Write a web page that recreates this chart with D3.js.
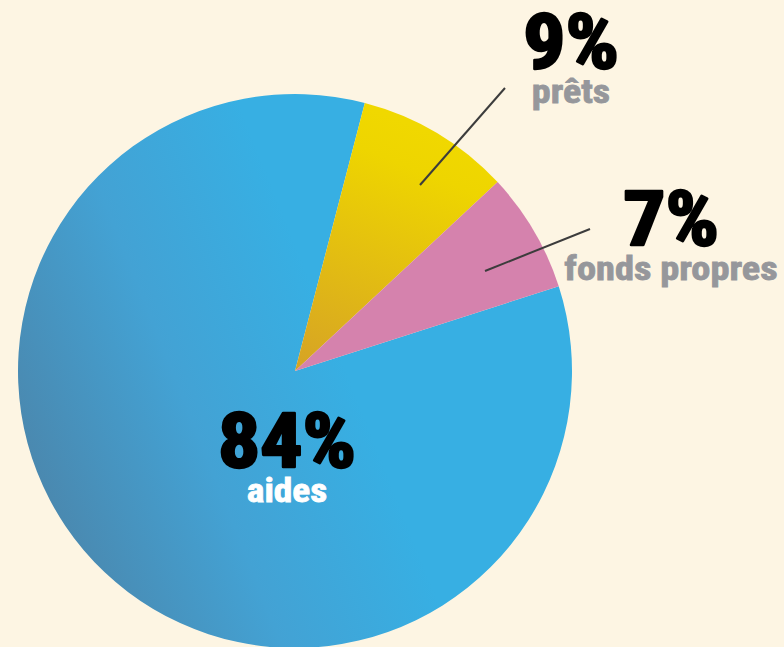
<!DOCTYPE html>
<html><head><meta charset="utf-8">
<script src="https://cdn.jsdelivr.net/npm/d3@7"></script>
<style>
html,body{margin:0;padding:0;background:#fdf5e3;}
svg{display:block;}
text{font-family:"Liberation Sans Narrow","Arial Narrow","Roboto Condensed","Liberation Sans",sans-serif;font-weight:bold;}
</style></head>
<body>
<svg id="chart" width="784" height="647"></svg>
<script>
const categories = ["aides", "prêts", "fonds propres"];
const values = [84, 9, 7];
const valueLabels = ["84%", "9%", "7%"];

const W = 784, H = 647;
const cx = 295, cy = 371, R = 277;
const svg = d3.select("#chart");
svg.append("rect").attr("width", W).attr("height", H).attr("fill", "#fdf5e3");

// gradients: coordinates relative to the pie centre (the paths live in a translated group)
const defs = svg.append("defs");
const gb = defs.append("linearGradient").attr("id", "gBlue")
  .attr("gradientUnits", "userSpaceOnUse")
  .attr("x1", 50 - cx).attr("y1", 500 - cy).attr("x2", 350 - cx).attr("y2", 380 - cy);
gb.append("stop").attr("offset", 0).attr("stop-color", "#4a89b0");
gb.append("stop").attr("offset", 0.5).attr("stop-color", "#43a2d4");
gb.append("stop").attr("offset", 1).attr("stop-color", "#37afe3");
const gy = defs.append("linearGradient").attr("id", "gYellow")
  .attr("gradientUnits", "userSpaceOnUse")
  .attr("x1", 300 - cx).attr("y1", 370 - cy).attr("x2", 400 - cx).attr("y2", 120 - cy);
gy.append("stop").attr("offset", 0).attr("stop-color", "#d6a325");
gy.append("stop").attr("offset", 0.85).attr("stop-color", "#eed500");
gy.append("stop").attr("offset", 1).attr("stop-color", "#f0d800");

const fills = ["url(#gBlue)", "url(#gYellow)", "#d582ad"];

const start = 72.2 * Math.PI / 180;
const pie = d3.pie().sort(null).value(d => d).startAngle(start).endAngle(start + 2 * Math.PI);
const arcs = pie(values);
const arc = d3.arc().innerRadius(0).outerRadius(R);

const g = svg.append("g").attr("transform", `translate(${cx},${cy})`);
g.selectAll("path").data(arcs).join("path")
  .attr("d", arc).attr("fill", (d, i) => fills[i]);

// leader lines
const lines = [
  {from: [420, 185], to: [505, 88]},
  {from: [485, 271], to: [590, 229]}
];
svg.selectAll("line.lead").data(lines).join("line")
  .attr("class", "lead")
  .attr("x1", d => d.from[0]).attr("y1", d => d.from[1])
  .attr("x2", d => d.to[0]).attr("y2", d => d.to[1])
  .attr("stroke", "#3c3c3c").attr("stroke-width", 2);

// labels
const labelPos = [
  {x: 287, y: 467, sub: 502, subColor: "#ffffff", sx: 1.1, ssx: 1.1},
  {x: 571, y: 68, sub: 103, subColor: "#96979b", sx: 1.1, ssx: 1.12},
  {x: 671, y: 245, sub: 280, subColor: "#96979b", sx: 1.1, ssx: 1.13}
];
labelPos.forEach((p, i) => {
  svg.append("text")
    .attr("transform", `translate(${p.x},${p.y}) scale(${p.sx},1)`)
    .attr("text-anchor", "middle").attr("font-size", 76)
    .attr("fill", "#000").attr("stroke", "#000").attr("stroke-width", 2.5)
    .attr("stroke-linejoin", "round")
    .text(valueLabels[i]);
  svg.append("text")
    .attr("transform", `translate(${p.x},${p.sub}) scale(${p.ssx},1)`)
    .attr("text-anchor", "middle").attr("font-size", 34)
    .attr("fill", p.subColor).attr("stroke", p.subColor).attr("stroke-width", 0.8)
    .text(categories[i]);
});
</script>
</body></html>
